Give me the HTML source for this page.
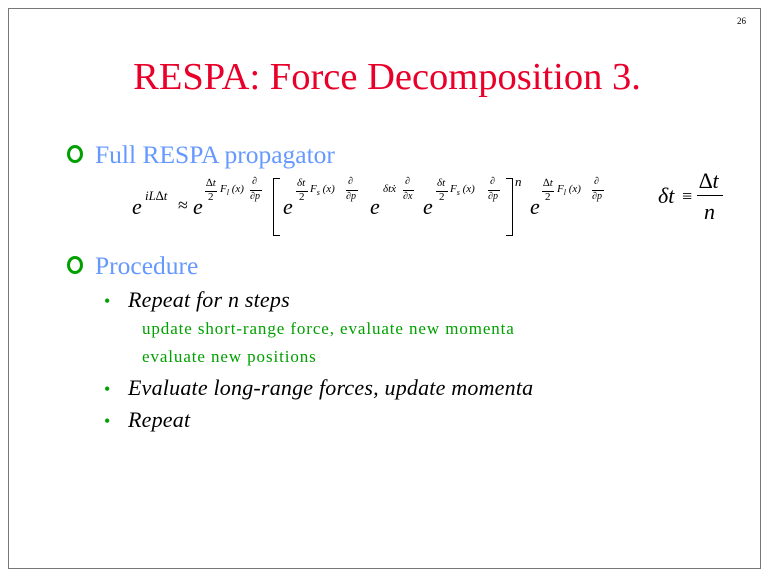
<!DOCTYPE html>
<html><head><style>
body{margin:0;width:768px;height:576px;background:#fff;position:relative;overflow:hidden;font-family:"Liberation Serif",serif}
.a{position:absolute;white-space:nowrap;line-height:1}
.i{font-style:italic}
.s{font-size:11px}
.g{font-size:17px;letter-spacing:0.9px;color:#00a000}
.t{font-size:22px;letter-spacing:0.2px}
</style></head><body>
<div style="position:absolute;left:8px;top:8px;width:751px;height:559px;border:1px solid #777"></div>
<div class="a" style="left:737px;top:17px;font-size:9px">26</div>
<div class="a" style="left:0;width:774px;text-align:center;top:58px;font-size:38.5px;color:#e8002a">RESPA: Force Decomposition 3.</div>

<div style="position:absolute;left:67px;top:145px;width:16px;height:18px;border:3px solid #00a000;border-radius:50%;box-sizing:border-box"></div>
<div class="a" style="left:95px;top:142px;font-size:25.5px;color:#6699ff">Full RESPA propagator</div>

<!-- equation -->
<div class="a i" style="left:132px;top:196px;font-size:22px">e</div>
<div class="a i" style="left:145px;top:189px;font-size:13px">iL∆t</div>
<div class="a" style="left:178px;top:196px;font-size:18px">≈</div>
<div class="a i" style="left:193px;top:196px;font-size:22px">e</div>
<div class="a i s" style="left:206px;top:178px">∆t</div>
<div style="position:absolute;left:205px;top:191px;width:12px;border-top:1px solid #000"></div>
<div class="a s" style="left:208px;top:192px">2</div>
<div class="a i s" style="left:220px;top:184px">F<sub style="font-size:8px">l</sub> (x)</div>
<div class="a i" style="left:252px;top:177px;font-size:10px">∂</div>
<div style="position:absolute;left:250px;top:190px;width:12px;border-top:1px solid #000"></div>
<div class="a i" style="left:250px;top:192px;font-size:10px">∂p</div>
<div style="position:absolute;left:273px;top:178px;width:6px;height:56px;border:1px solid #000;border-right:none"></div>
<div class="a i" style="left:283px;top:196px;font-size:22px">e</div>
<div class="a i s" style="left:297px;top:178px">δt</div>
<div style="position:absolute;left:296px;top:191px;width:12px;border-top:1px solid #000"></div>
<div class="a s" style="left:299px;top:192px">2</div>
<div class="a i s" style="left:310px;top:184px">F<sub style="font-size:8px">s</sub> (x)</div>
<div class="a i" style="left:348px;top:177px;font-size:10px">∂</div>
<div style="position:absolute;left:346px;top:190px;width:12px;border-top:1px solid #000"></div>
<div class="a i" style="left:346px;top:192px;font-size:10px">∂p</div>
<div class="a i" style="left:370px;top:196px;font-size:22px">e</div>
<div class="a i s" style="left:383px;top:184px">δtẋ</div>
<div class="a i" style="left:405px;top:177px;font-size:10px">∂</div>
<div style="position:absolute;left:403px;top:190px;width:11px;border-top:1px solid #000"></div>
<div class="a i" style="left:403px;top:192px;font-size:10px">∂x</div>
<div class="a i" style="left:423px;top:196px;font-size:22px">e</div>
<div class="a i s" style="left:437px;top:178px">δt</div>
<div style="position:absolute;left:436px;top:191px;width:12px;border-top:1px solid #000"></div>
<div class="a s" style="left:439px;top:192px">2</div>
<div class="a i s" style="left:450px;top:184px">F<sub style="font-size:8px">s</sub> (x)</div>
<div class="a i" style="left:490px;top:177px;font-size:10px">∂</div>
<div style="position:absolute;left:488px;top:190px;width:12px;border-top:1px solid #000"></div>
<div class="a i" style="left:488px;top:192px;font-size:10px">∂p</div>
<div style="position:absolute;left:506px;top:178px;width:6px;height:56px;border:1px solid #000;border-left:none"></div>
<div class="a i" style="left:515px;top:175px;font-size:13px">n</div>
<div class="a i" style="left:530px;top:196px;font-size:22px">e</div>
<div class="a i s" style="left:543px;top:178px">∆t</div>
<div style="position:absolute;left:542px;top:191px;width:12px;border-top:1px solid #000"></div>
<div class="a s" style="left:545px;top:192px">2</div>
<div class="a i s" style="left:557px;top:184px">F<sub style="font-size:8px">l</sub> (x)</div>
<div class="a i" style="left:594px;top:177px;font-size:10px">∂</div>
<div style="position:absolute;left:592px;top:190px;width:12px;border-top:1px solid #000"></div>
<div class="a i" style="left:592px;top:192px;font-size:10px">∂p</div>
<div class="a i" style="left:658px;top:185px;font-size:22px">δt</div>
<div class="a" style="left:682px;top:187px;font-size:18px">≡</div>
<div class="a i" style="left:699px;top:170px;font-size:22px">∆t</div>
<div style="position:absolute;left:697px;top:195px;width:26px;border-top:1px solid #000"></div>
<div class="a i" style="left:704px;top:201px;font-size:22px">n</div>

<div style="position:absolute;left:67px;top:256px;width:16px;height:18px;border:3px solid #00a000;border-radius:50%;box-sizing:border-box"></div>
<div class="a" style="left:95px;top:253px;font-size:25.5px;color:#6699ff">Procedure</div>

<div class="a" style="left:104px;top:292px;font-size:18px;color:#00a000">•</div>
<div class="a i t" style="left:128px;top:289px">Repeat for n steps</div>
<div class="a g" style="left:142px;top:320px">update short-range force, evaluate new momenta</div>
<div class="a g" style="left:142px;top:348px">evaluate new positions</div>
<div class="a" style="left:104px;top:380px;font-size:18px;color:#00a000">•</div>
<div class="a i t" style="left:128px;top:377px">Evaluate long-range forces, update momenta</div>
<div class="a" style="left:104px;top:412px;font-size:18px;color:#00a000">•</div>
<div class="a i t" style="left:128px;top:409px">Repeat</div>
</body></html>
